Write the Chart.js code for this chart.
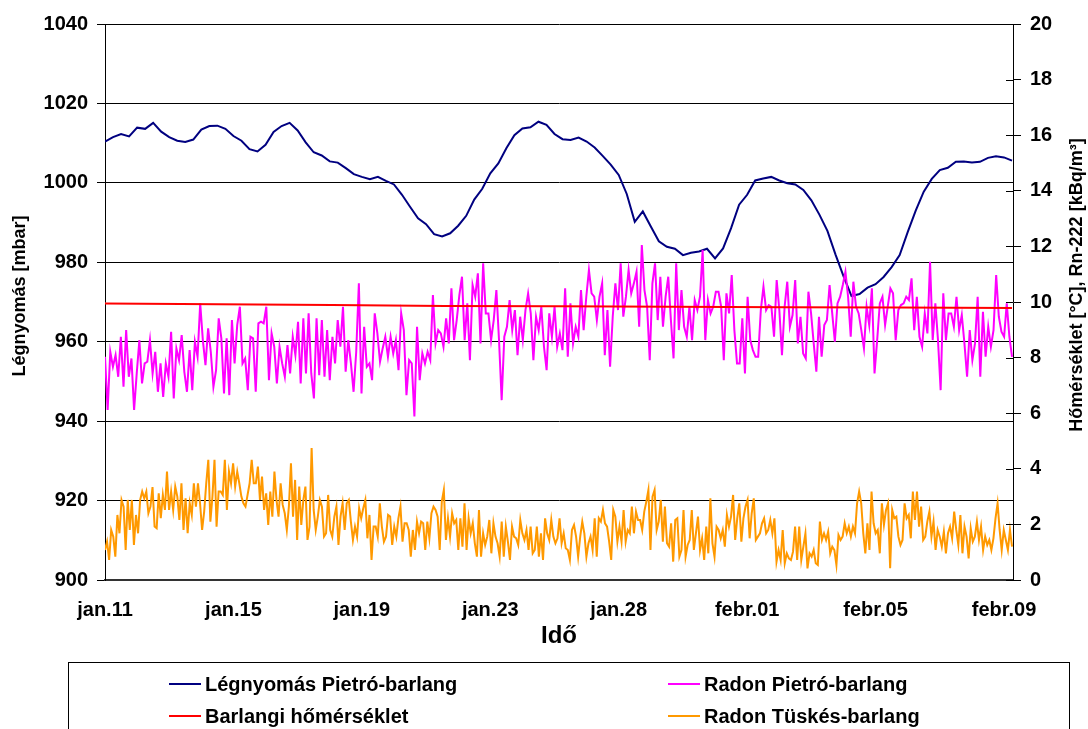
<!DOCTYPE html>
<html>
<head>
<meta charset="utf-8">
<script src="https://cdn.jsdelivr.net/npm/chart.js@4.4.0/dist/chart.umd.min.js"></script>
<style>
 html,body{margin:0;padding:0;background:#fff;}
</style>
</head>
<body>
<canvas id="chart" width="1088" height="729"></canvas>
<script>
const FONT="'Liberation Sans', Arial, sans-serif";

// x axis: days from the first label, labels every 4 days
const tickDays=[0,4,8,12,16,20,24,28];
const tickLabels=["jan.11","jan.15","jan.19","jan.23","jan.28","febr.01","febr.05","febr.09"];
const endDay=28.25;

// Légnyomás Pietró-barlang [mbar], every 6 hours
const pressure=[
 1010.4,1011.5,1012.3,1011.7,1013.9,1013.6,1015.1,1012.9,1011.5,1010.6,
 1010.3,1010.9,1013.4,1014.3,1014.4,1013.6,1011.8,1010.6,1008.5,1007.9,
 1009.6,1012.8,1014.3,1015.1,1013.2,1010.2,1007.7,1006.9,1005.4,1005.1,
 1003.7,1002.2,1001.5,1000.9,1001.5,1000.5,999.6,997.0,994.0,991.1,
 989.6,987.1,986.5,987.3,989.2,991.7,995.8,998.5,1002.4,1004.9,
 1008.7,1012.0,1013.7,1014.0,1015.4,1014.6,1012.3,1011.0,1010.8,1011.4,
 1010.4,1008.9,1006.8,1004.6,1002.0,997.2,990.2,992.8,989.0,985.3,
 983.9,983.4,981.8,982.4,982.7,983.4,981.0,983.5,988.6,994.5,
 997.0,1000.6,1001.1,1001.5,1000.6,999.9,999.6,998.2,995.6,992.0,
 987.9,982.0,976.5,971.5,972.0,973.6,974.5,976.3,978.8,981.8,
 987.6,993.0,997.8,1001.0,1003.2,1003.8,1005.3,1005.4,1005.1,1005.3,
 1006.3,1006.7,1006.4,1005.6
];

// Barlangi hőmérséklet [°C]
const temperature=[9.95,9.92,9.89,9.86,9.85,9.83,9.81,9.80,9.78];

// Radon Pietró-barlang [kBq/m3]
const radonPietro=[
 8.03,6.12,8.21,7.67,8.09,7.31,8.75,6.95,8.99,7.31,
 7.97,6.12,7.43,8.63,7.07,7.79,7.85,8.63,7.43,8.21,
 6.77,7.79,6.59,7.79,7.31,8.93,6.53,8.33,7.91,8.81,
 7.49,6.77,8.27,6.83,8.57,8.03,9.95,8.63,7.73,9.05,
 8.21,6.95,7.55,9.41,8.69,6.71,8.69,6.65,9.35,7.79,
 9.17,9.83,7.79,7.97,6.83,8.75,8.69,6.77,9.23,9.29,
 9.23,9.83,7.19,8.87,8.39,7.07,8.39,7.79,7.31,8.45,
 7.43,8.75,8.09,9.29,7.07,9.41,7.43,9.59,7.43,6.53,
 9.41,7.37,9.35,7.31,8.99,7.19,8.75,7.79,9.35,8.39,
 9.83,7.49,8.63,7.79,6.77,8.21,10.67,6.71,9.11,7.67,
 7.79,7.19,9.59,8.87,7.85,8.33,8.75,8.03,8.75,8.15,
 8.63,7.55,9.59,8.99,6.65,7.91,
 7.79,5.88,9.11,7.19,8.15,7.79,8.21,7.91,10.25,8.51,
 8.99,8.87,8.39,9.41,8.51,10.49,8.63,9.35,10.25,10.91,
 8.63,9.95,7.91,10.61,10.19,11.03,8.51,11.39,9.59,9.59,
 8.63,9.35,10.43,8.63,6.47,8.75,9.11,10.07,8.99,9.71,
 8.09,9.47,8.63,9.71,10.31,9.59,7.91,9.47,8.99,9.83,
 8.39,7.55,9.59,8.75,9.83,8.39,8.87,8.27,10.49,8.03,
 9.95,8.51,9.11,8.75,10.43,8.99,10.19,11.15,10.31,10.19,
 9.35,10.19,10.67,8.09,9.71,7.67,9.47,10.67,9.71,11.39,
 9.47,10.19,11.15,10.31,10.67,11.09,9.11,12.05,10.43,9.83,
 7.91,10.67,11.39,9.35,10.91,9.11,10.19,10.91,9.35,7.97,
 11.39,8.99,10.43,9.11,8.75,9.83,8.63,10.07,9.71,10.19,
 11.87,8.63,10.07,9.59,9.83,10.37,10.37,9.83,7.91,10.31,
 9.59,10.97,8.99,7.79,
 7.79,9.41,7.43,10.19,8.63,8.27,8.03,8.03,9.71,10.55,
 9.71,9.89,9.83,8.75,10.79,9.71,8.09,9.83,10.73,9.11,
 9.53,10.79,8.51,9.47,8.15,7.97,10.37,9.59,8.51,7.49,
 9.47,8.03,9.17,9.35,10.61,9.59,8.57,9.95,10.19,10.61,
 11.09,10.19,8.75,10.73,9.83,9.59,8.99,8.33,9.83,9.17,
 10.49,7.43,8.63,9.95,10.19,9.17,9.83,10.49,10.31,8.63,
 9.71,9.89,9.95,10.19,10.07,10.85,8.99,10.19,8.75,8.39,
 9.59,8.87,11.45,8.63,9.95,8.63,6.83,10.31,8.63,9.59,
 9.59,9.11,10.19,8.99,9.53,8.51,7.31,8.99,7.91,8.51,
 10.19,7.31,9.65,8.03,9.11,8.39,8.99,10.97,9.47,8.93,
 8.75,9.95,8.75,8.03
];

// Radon Tüskés-barlang [kBq/m3]
const radonTuskes=[
 1.08,1.38,0.72,1.80,1.56,0.84,2.34,1.68,2.88,2.64,
 1.08,2.88,1.80,2.88,1.26,2.34,1.68,2.88,3.18,2.94,
 3.18,2.40,2.64,3.34,1.92,1.86,3.12,2.22,3.06,2.52,
 3.90,2.52,3.18,2.52,3.36,3.00,2.16,3.48,1.80,2.94,
 1.68,2.76,2.34,3.48,2.64,3.48,2.76,1.80,2.46,3.48,
 4.32,2.10,3.00,4.32,1.92,3.18,3.18,3.06,4.32,2.52,
 3.90,3.48,4.20,3.36,3.90,3.48,3.00,2.76,2.64,3.06,
 3.48,4.32,3.48,3.48,4.08,2.88,3.72,2.52,3.12,1.98,
 3.18,2.28,3.90,2.88,2.28,3.48,2.70,2.40,1.80,2.64,
 4.20,2.28,3.60,1.44,3.36,1.98,2.88,3.36,1.44,1.92,
 4.75,2.52,1.80,2.28,2.88,2.64,1.56,1.68,3.06,1.80,
 1.56,2.28,2.64,1.26,2.28,2.76,1.80,2.76,2.88,2.10,
 1.44,1.92,1.56,2.58,2.22,2.58,2.88,1.50,2.34,0.72,
 1.92,1.92,1.56,2.76,1.92,1.38,1.56,2.34,2.28,1.26,
 1.92,1.56,2.22,2.64,1.38,2.04,2.04,1.80,0.84,1.80,
 1.08,
 2.10,1.68,2.10,2.04,1.08,2.10,1.50,2.40,2.64,2.52,
 2.28,1.08,2.82,3.24,1.44,2.22,1.56,2.40,2.04,2.16,
 1.08,2.22,1.20,2.76,1.08,2.22,1.68,2.04,1.32,0.84,
 2.52,0.84,1.68,1.26,1.56,2.16,0.96,2.04,1.56,1.32,
 0.84,2.10,0.84,1.92,1.38,0.72,1.92,1.56,
 1.50,1.26,2.16,1.68,1.44,1.80,1.08,1.92,
 0.96,1.08,1.92,0.84,1.68,0.72,2.22,1.68,1.44,2.16,
 1.56,1.32,1.50,2.22,1.32,1.68,1.14,1.08,
 0.72,1.80,1.98,1.56,0.84,1.56,2.10,1.68,0.84,1.32,
 1.56,1.08,2.22,0.84,2.22,2.10,2.52,2.04,1.92,1.38,
 0.72,2.52,2.28,1.38,1.92,1.38,2.52,1.38,1.80,1.68,
 2.64,1.68,2.46,2.16,2.16,1.80,2.46,2.82,3.24,1.08,
 3.00,3.24,1.80,2.10,2.88,1.38,2.64,1.32,1.20,2.04,
 0.66,2.16,2.22,0.84,1.08,2.52,0.84,1.26,1.44,2.52,
 1.08,1.68,2.28,1.08,1.50,0.72,1.92,0.96,2.94,1.32,
 0.84,1.92,1.80,1.50,1.80,
 1.20,2.34,1.92,2.28,3.06,1.44,2.22,2.76,1.38,2.22,
 2.64,2.88,1.50,2.40,2.94,1.44,1.56,1.68,2.04,2.22,
 1.68,1.80,2.16,1.68,2.22,0.66,1.08,0.72,1.80,0.60,
 0.96,0.78,0.72,1.02,1.92,0.72,1.92,0.72,1.20,1.68,
 0.42,0.96,0.84,1.08,0.60,0.54,2.10,1.44,1.68,1.44,
 1.74,0.96,1.20,1.08,0.54,1.62,1.44,1.56,2.04,1.68,
 1.92,1.56,1.92,1.68,2.76,3.18,2.76,1.68,0.96,2.04,
 1.08,3.18,2.04,1.68,1.80,0.96,2.76,1.98,2.52,2.76,
 0.42,2.52,2.22,2.28,1.56,1.26,1.44,2.76,2.22,2.34,
 1.50,3.18,2.16,3.18,1.92,2.64,1.44,1.56,2.10,2.46,
 1.56,2.10,1.08,1.80,1.56,1.20,1.74,0.96,1.68,1.92,
 1.50,2.46,1.80,1.26,2.34,0.96,1.92,1.56,0.78,1.86,
 1.38,1.56,2.10,1.44,1.92,1.08,1.56,1.26,1.44,1.08,
 1.50,2.22,2.76,1.80,1.08,1.80,1.44,1.08,1.80,1.20
];

const seriesNames=["Légnyomás Pietró-barlang","Radon Pietró-barlang","Barlangi hőmérséklet","Radon Tüskés-barlang"];
const seriesColors=["#000080","#FF00FF","#FF0000","#FF9900"];

function toPoints(vals){
 const step=endDay/(vals.length-1);
 return vals.map((v,i)=>({x:i*step,y:v}));
}

function line(i,vals,axis,order){
 return {
   label:seriesNames[i],
   data:toPoints(vals),
   yAxisID:axis,
   borderColor:seriesColors[i],
   borderWidth:2,
   pointRadius:0,
   tension:0,
   order:order
 };
}

const extras={
 id:"extras",
 afterDraw(chart){
   const ctx=chart.ctx;
   const a=chart.chartArea;
   const y2=chart.scales.y2;
   ctx.save();

   // right axis ticks cross the axis line
   ctx.strokeStyle="#000";
   ctx.lineWidth=1;
   y2.ticks.forEach(t=>{
     const y=Math.round(y2.getPixelForValue(t.value))+0.5;
     ctx.beginPath();
     ctx.moveTo(a.right-7,y);
     ctx.lineTo(a.right,y);
     ctx.stroke();
   });

   ctx.fillStyle="#000";
   ctx.textAlign="center";
   ctx.textBaseline="middle";
   ctx.font="bold 18px "+FONT;

   ctx.save();
   ctx.translate(20,296);
   ctx.rotate(-Math.PI/2);
   ctx.fillText("Légnyomás [mbar]",0,0);
   ctx.restore();

   ctx.save();
   ctx.translate(1077,285);
   ctx.rotate(-Math.PI/2);
   ctx.fillText("Hőmérséklet [°C], Rn-222 [kBq/m³]",0,0);
   ctx.restore();

   ctx.font="bold 24px "+FONT;
   ctx.fillText("Idő",(a.left+a.right)/2,636);

   // legend box, two columns
   ctx.strokeStyle="#000";
   ctx.strokeRect(68.5,662.5,1001,80);
   const cols=[169,668], rows=[684,716];
   ctx.font="bold 20px "+FONT;
   ctx.textAlign="left";
   [0,2,1,3].forEach((s,k)=>{
     const x=cols[k<2?0:1], y=rows[k%2];
     ctx.strokeStyle=seriesColors[s];
     ctx.lineWidth=2;
     ctx.beginPath();
     ctx.moveTo(x,y);
     ctx.lineTo(x+32,y);
     ctx.stroke();
     ctx.fillText(seriesNames[s],x+36,y+1);
   });

   ctx.restore();
 }
};

const tickFont={family:FONT,size:20,weight:"bold"};

new Chart(document.getElementById("chart"),{
 type:"line",
 data:{
   datasets:[
     line(0,pressure,"y",4),
     line(1,radonPietro,"y2",3),
     line(2,temperature,"y2",2),
     line(3,radonTuskes,"y2",1)
   ]
 },
 options:{
   responsive:false,
   animation:false,
   devicePixelRatio:1,
   layout:{padding:{top:24,left:0,right:0,bottom:0}},
   plugins:{legend:{display:false},tooltip:{enabled:false}},
   scales:{
     x:{
       type:"linear",
       min:0,
       max:28.28,
       afterBuildTicks(s){ s.ticks=tickDays.map(v=>({value:v})); },
       ticks:{
         autoSkip:false,
         maxRotation:0,
         padding:18,
         color:"#000",
         font:tickFont,
         callback:v=>tickLabels[tickDays.indexOf(v)]
       },
       grid:{display:false,drawTicks:false},
       border:{display:true,color:"#333",width:2},
       afterFit(s){ s.height=149; }
     },
     y:{
       position:"left",
       min:900,
       max:1040,
       ticks:{stepSize:20,padding:9,color:"#000",font:tickFont,callback:v=>String(v)},
       grid:{color:"#000",lineWidth:1,tickLength:8,tickColor:"#000"},
       border:{color:"#000",width:1},
       afterFit(s){ s.width=105; }
     },
     y2:{
       position:"right",
       min:0,
       max:20,
       ticks:{stepSize:2,padding:9,color:"#000",font:tickFont,callback:v=>String(v)},
       grid:{drawOnChartArea:false,tickLength:8,tickColor:"#000"},
       border:{color:"#000",width:1},
       afterFit(s){ s.width=75; }
     }
   }
 },
 plugins:[extras]
});
</script>
</body>
</html>
